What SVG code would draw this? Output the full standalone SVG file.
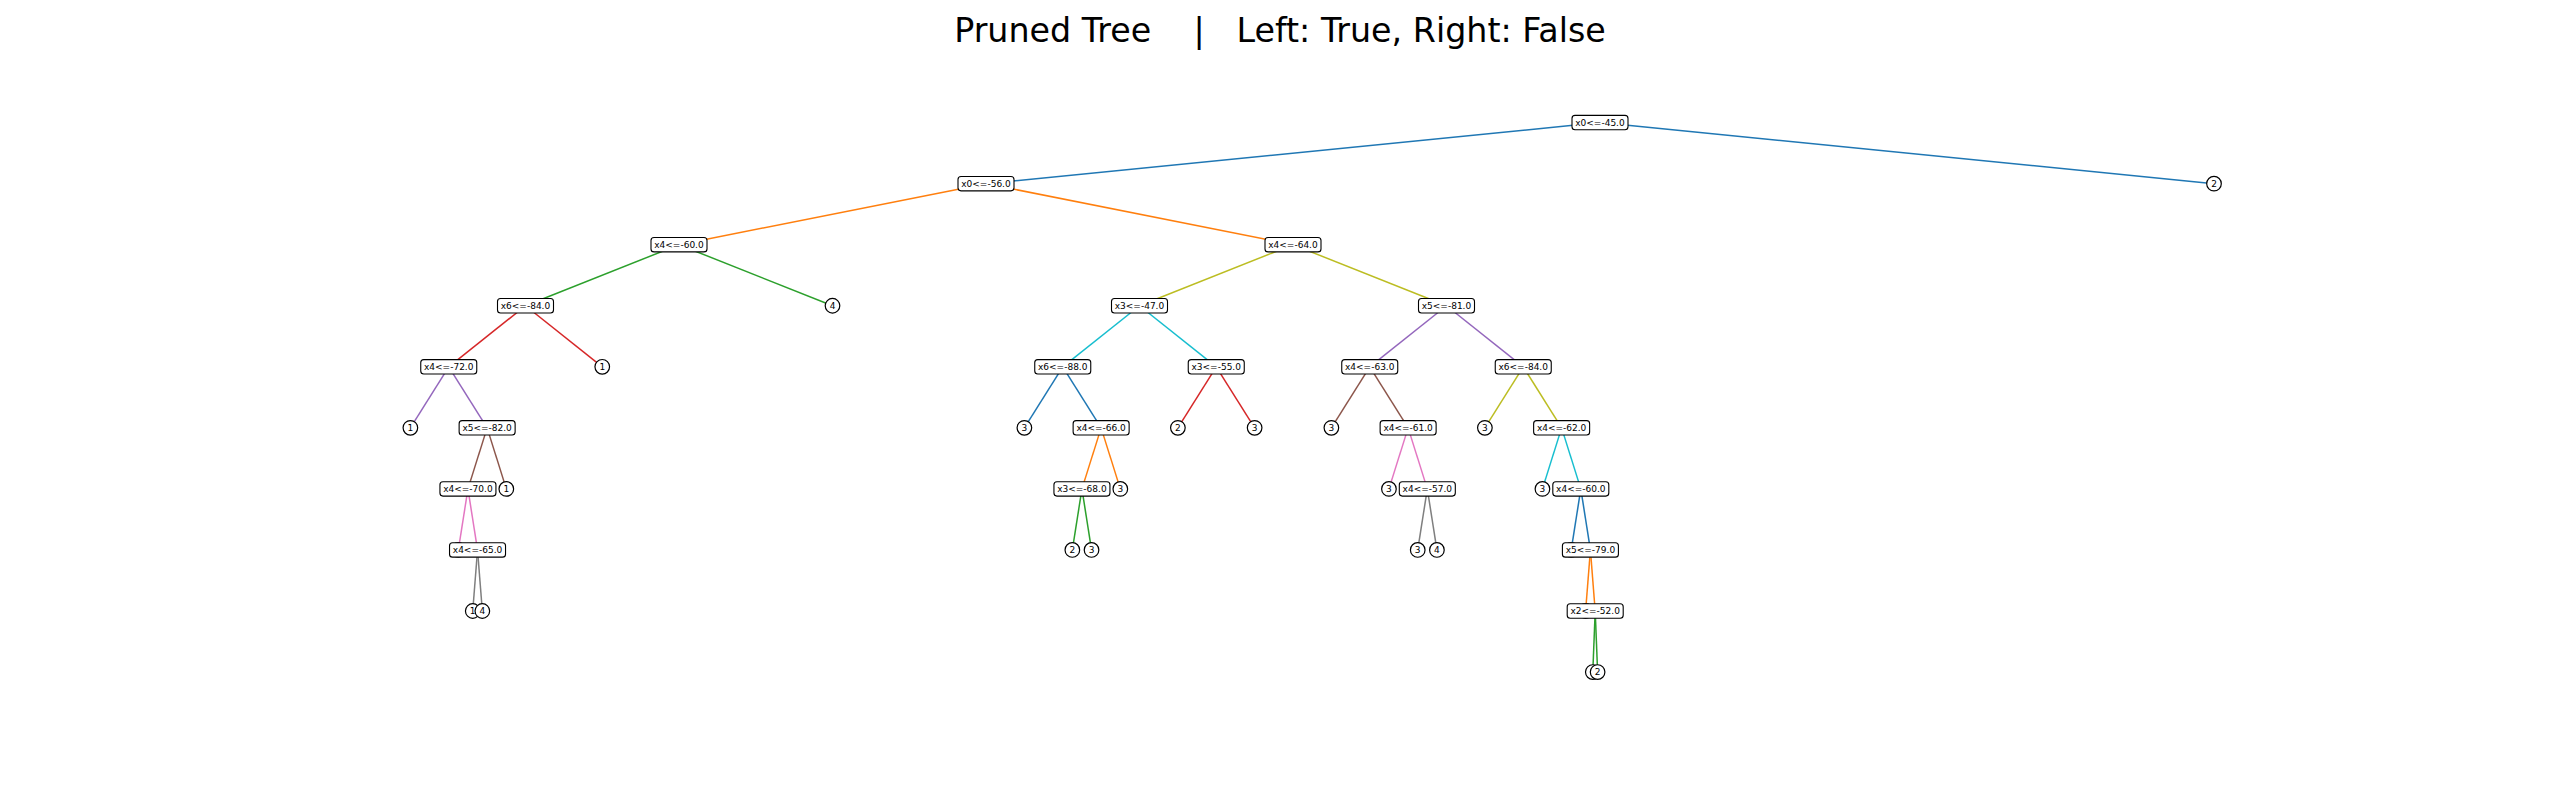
<svg xmlns="http://www.w3.org/2000/svg" width="2560" height="800" viewBox="0 0 2560 800">
<style>
text{font-family:"DejaVu Sans","Liberation Sans",sans-serif;fill:#000}
.t{font-size:33.3px}
.n rect{fill:#fff;stroke:#000;stroke-width:1.1}
.n text,.l text{font-size:9px;text-anchor:middle}
.l circle{fill:#fff;stroke:#000;stroke-width:1.2}
#edges line{stroke-width:1.5;fill:none}
.c0{stroke:#1f77b4}.c1{stroke:#ff7f0e}.c2{stroke:#2ca02c}.c3{stroke:#d62728}.c4{stroke:#9467bd}
.c5{stroke:#8c564b}.c6{stroke:#e377c2}.c7{stroke:#7f7f7f}.c8{stroke:#bcbd22}.c9{stroke:#17becf}
</style>
<rect width="2560" height="800" fill="#fff"/>
<text class="t" x="1280" y="42" text-anchor="middle" xml:space="preserve">Pruned Tree    |   Left: True, Right: False</text>
<g id="edges">
<line class="c0" x1="1600" y1="122.6" x2="986" y2="183.65"/>
<line class="c0" x1="1600" y1="122.6" x2="2214" y2="183.65"/>
<line class="c1" x1="986" y1="183.65" x2="679" y2="244.7"/>
<line class="c1" x1="986" y1="183.65" x2="1293" y2="244.7"/>
<line class="c2" x1="679" y1="244.7" x2="525.5" y2="305.75"/>
<line class="c2" x1="679" y1="244.7" x2="832.5" y2="305.75"/>
<line class="c3" x1="525.5" y1="305.75" x2="448.75" y2="366.8"/>
<line class="c3" x1="525.5" y1="305.75" x2="602.25" y2="366.8"/>
<line class="c4" x1="448.75" y1="366.8" x2="410.38" y2="427.85"/>
<line class="c4" x1="448.75" y1="366.8" x2="487.13" y2="427.85"/>
<line class="c5" x1="487.13" y1="427.85" x2="467.94" y2="488.9"/>
<line class="c5" x1="487.13" y1="427.85" x2="506.31" y2="488.9"/>
<line class="c6" x1="467.94" y1="488.9" x2="458.34" y2="549.95"/>
<line class="c6" x1="467.94" y1="488.9" x2="477.53" y2="549.95"/>
<line class="c7" x1="477.53" y1="549.95" x2="472.74" y2="611"/>
<line class="c7" x1="477.53" y1="549.95" x2="482.33" y2="611"/>
<line class="c8" x1="1293" y1="244.7" x2="1139.5" y2="305.75"/>
<line class="c8" x1="1293" y1="244.7" x2="1446.5" y2="305.75"/>
<line class="c9" x1="1139.5" y1="305.75" x2="1062.75" y2="366.8"/>
<line class="c9" x1="1139.5" y1="305.75" x2="1216.25" y2="366.8"/>
<line class="c0" x1="1062.75" y1="366.8" x2="1024.38" y2="427.85"/>
<line class="c0" x1="1062.75" y1="366.8" x2="1101.13" y2="427.85"/>
<line class="c1" x1="1101.13" y1="427.85" x2="1081.94" y2="488.9"/>
<line class="c1" x1="1101.13" y1="427.85" x2="1120.31" y2="488.9"/>
<line class="c2" x1="1081.94" y1="488.9" x2="1072.34" y2="549.95"/>
<line class="c2" x1="1081.94" y1="488.9" x2="1091.53" y2="549.95"/>
<line class="c3" x1="1216.25" y1="366.8" x2="1177.88" y2="427.85"/>
<line class="c3" x1="1216.25" y1="366.8" x2="1254.63" y2="427.85"/>
<line class="c4" x1="1446.5" y1="305.75" x2="1369.75" y2="366.8"/>
<line class="c4" x1="1446.5" y1="305.75" x2="1523.25" y2="366.8"/>
<line class="c5" x1="1369.75" y1="366.8" x2="1331.38" y2="427.85"/>
<line class="c5" x1="1369.75" y1="366.8" x2="1408.13" y2="427.85"/>
<line class="c6" x1="1408.13" y1="427.85" x2="1388.94" y2="488.9"/>
<line class="c6" x1="1408.13" y1="427.85" x2="1427.31" y2="488.9"/>
<line class="c7" x1="1427.31" y1="488.9" x2="1417.72" y2="549.95"/>
<line class="c7" x1="1427.31" y1="488.9" x2="1436.91" y2="549.95"/>
<line class="c8" x1="1523.25" y1="366.8" x2="1484.88" y2="427.85"/>
<line class="c8" x1="1523.25" y1="366.8" x2="1561.63" y2="427.85"/>
<line class="c9" x1="1561.63" y1="427.85" x2="1542.44" y2="488.9"/>
<line class="c9" x1="1561.63" y1="427.85" x2="1580.81" y2="488.9"/>
<line class="c0" x1="1580.81" y1="488.9" x2="1571.22" y2="549.95"/>
<line class="c0" x1="1580.81" y1="488.9" x2="1590.41" y2="549.95"/>
<line class="c1" x1="1590.41" y1="549.95" x2="1585.61" y2="611"/>
<line class="c1" x1="1590.41" y1="549.95" x2="1595.2" y2="611"/>
<line class="c2" x1="1595.2" y1="611" x2="1592.8" y2="672.05"/>
<line class="c2" x1="1595.2" y1="611" x2="1597.6" y2="672.05"/>
</g>
<g id="n0" class="n"><rect x="1572" y="115.4" width="56" height="14.4" rx="3"/><text x="1600" y="125.9">x0&lt;=-45.0</text></g>
<g id="n1" class="n"><rect x="958" y="176.45" width="56" height="14.4" rx="3"/><text x="986" y="186.95">x0&lt;=-56.0</text></g>
<g id="n2" class="n"><rect x="651" y="237.5" width="56" height="14.4" rx="3"/><text x="679" y="248">x4&lt;=-60.0</text></g>
<g id="n3" class="n"><rect x="497.5" y="298.55" width="56" height="14.4" rx="3"/><text x="525.5" y="309.05">x6&lt;=-84.0</text></g>
<g id="n4" class="n"><rect x="420.75" y="359.6" width="56" height="14.4" rx="3"/><text x="448.75" y="370.1">x4&lt;=-72.0</text></g>
<g id="n5" class="l"><circle cx="410.38" cy="427.85" r="7.3"/><text x="410.38" y="431.15">1</text></g>
<g id="n6" class="n"><rect x="459.13" y="420.65" width="56" height="14.4" rx="3"/><text x="487.13" y="431.15">x5&lt;=-82.0</text></g>
<g id="n7" class="n"><rect x="439.94" y="481.7" width="56" height="14.4" rx="3"/><text x="467.94" y="492.2">x4&lt;=-70.0</text></g>
<g id="n8" class="l"><circle cx="458.34" cy="549.95" r="7.3"/></g>
<g id="n9" class="n"><rect x="449.53" y="542.75" width="56" height="14.4" rx="3"/><text x="477.53" y="553.25">x4&lt;=-65.0</text></g>
<g id="n10" class="l"><circle cx="472.74" cy="611" r="7.3"/><text x="472.74" y="614.3">1</text></g>
<g id="n11" class="l"><circle cx="482.33" cy="611" r="7.3"/><text x="482.33" y="614.3">4</text></g>
<g id="n12" class="l"><circle cx="506.31" cy="488.9" r="7.3"/><text x="506.31" y="492.2">1</text></g>
<g id="n13" class="l"><circle cx="602.25" cy="366.8" r="7.3"/><text x="602.25" y="370.1">1</text></g>
<g id="n14" class="l"><circle cx="832.5" cy="305.75" r="7.3"/><text x="832.5" y="309.05">4</text></g>
<g id="n15" class="n"><rect x="1265" y="237.5" width="56" height="14.4" rx="3"/><text x="1293" y="248">x4&lt;=-64.0</text></g>
<g id="n16" class="n"><rect x="1111.5" y="298.55" width="56" height="14.4" rx="3"/><text x="1139.5" y="309.05">x3&lt;=-47.0</text></g>
<g id="n17" class="n"><rect x="1034.75" y="359.6" width="56" height="14.4" rx="3"/><text x="1062.75" y="370.1">x6&lt;=-88.0</text></g>
<g id="n18" class="l"><circle cx="1024.38" cy="427.85" r="7.3"/><text x="1024.38" y="431.15">3</text></g>
<g id="n19" class="n"><rect x="1073.13" y="420.65" width="56" height="14.4" rx="3"/><text x="1101.13" y="431.15">x4&lt;=-66.0</text></g>
<g id="n20" class="n"><rect x="1053.94" y="481.7" width="56" height="14.4" rx="3"/><text x="1081.94" y="492.2">x3&lt;=-68.0</text></g>
<g id="n21" class="l"><circle cx="1072.34" cy="549.95" r="7.3"/><text x="1072.34" y="553.25">2</text></g>
<g id="n22" class="l"><circle cx="1091.53" cy="549.95" r="7.3"/><text x="1091.53" y="553.25">3</text></g>
<g id="n23" class="l"><circle cx="1120.31" cy="488.9" r="7.3"/><text x="1120.31" y="492.2">3</text></g>
<g id="n24" class="n"><rect x="1188.25" y="359.6" width="56" height="14.4" rx="3"/><text x="1216.25" y="370.1">x3&lt;=-55.0</text></g>
<g id="n25" class="l"><circle cx="1177.88" cy="427.85" r="7.3"/><text x="1177.88" y="431.15">2</text></g>
<g id="n26" class="l"><circle cx="1254.63" cy="427.85" r="7.3"/><text x="1254.63" y="431.15">3</text></g>
<g id="n27" class="n"><rect x="1418.5" y="298.55" width="56" height="14.4" rx="3"/><text x="1446.5" y="309.05">x5&lt;=-81.0</text></g>
<g id="n28" class="n"><rect x="1341.75" y="359.6" width="56" height="14.4" rx="3"/><text x="1369.75" y="370.1">x4&lt;=-63.0</text></g>
<g id="n29" class="l"><circle cx="1331.38" cy="427.85" r="7.3"/><text x="1331.38" y="431.15">3</text></g>
<g id="n30" class="n"><rect x="1380.13" y="420.65" width="56" height="14.4" rx="3"/><text x="1408.13" y="431.15">x4&lt;=-61.0</text></g>
<g id="n31" class="l"><circle cx="1388.94" cy="488.9" r="7.3"/><text x="1388.94" y="492.2">3</text></g>
<g id="n32" class="n"><rect x="1399.31" y="481.7" width="56" height="14.4" rx="3"/><text x="1427.31" y="492.2">x4&lt;=-57.0</text></g>
<g id="n33" class="l"><circle cx="1417.72" cy="549.95" r="7.3"/><text x="1417.72" y="553.25">3</text></g>
<g id="n34" class="l"><circle cx="1436.91" cy="549.95" r="7.3"/><text x="1436.91" y="553.25">4</text></g>
<g id="n35" class="n"><rect x="1495.25" y="359.6" width="56" height="14.4" rx="3"/><text x="1523.25" y="370.1">x6&lt;=-84.0</text></g>
<g id="n36" class="l"><circle cx="1484.88" cy="427.85" r="7.3"/><text x="1484.88" y="431.15">3</text></g>
<g id="n37" class="n"><rect x="1533.63" y="420.65" width="56" height="14.4" rx="3"/><text x="1561.63" y="431.15">x4&lt;=-62.0</text></g>
<g id="n38" class="l"><circle cx="1542.44" cy="488.9" r="7.3"/><text x="1542.44" y="492.2">3</text></g>
<g id="n39" class="n"><rect x="1552.81" y="481.7" width="56" height="14.4" rx="3"/><text x="1580.81" y="492.2">x4&lt;=-60.0</text></g>
<g id="n40" class="l"><circle cx="1571.22" cy="549.95" r="7.3"/></g>
<g id="n41" class="n"><rect x="1562.41" y="542.75" width="56" height="14.4" rx="3"/><text x="1590.41" y="553.25">x5&lt;=-79.0</text></g>
<g id="n42" class="l"><circle cx="1585.61" cy="611" r="7.3"/></g>
<g id="n43" class="n"><rect x="1567.2" y="603.8" width="56" height="14.4" rx="3"/><text x="1595.2" y="614.3">x2&lt;=-52.0</text></g>
<g id="n44" class="l"><circle cx="1592.8" cy="672.05" r="7.3"/></g>
<g id="n45" class="l"><circle cx="1597.6" cy="672.05" r="7.3"/><text x="1597.6" y="675.35">2</text></g>
<g id="n46" class="l"><circle cx="2214" cy="183.65" r="7.3"/><text x="2214" y="186.95">2</text></g>
</svg>
